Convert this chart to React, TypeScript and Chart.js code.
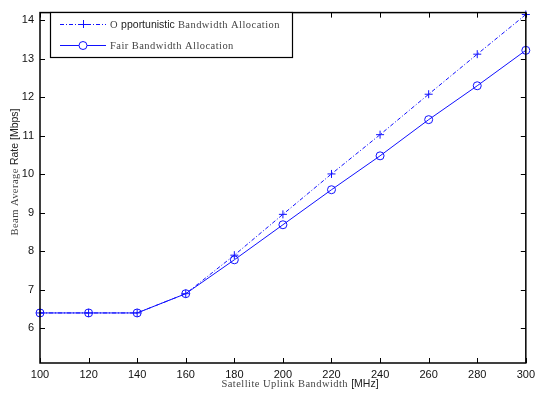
import React, { useEffect, useRef } from "react";
import { Chart, registerables } from "chart.js";

Chart.register(...registerables);

const bandwidths = [100, 120, 140, 160, 180, 200, 220, 240, 260, 280, 300];
const opportunistic = [6.4, 6.4, 6.4, 6.9, 7.9, 8.96, 10.01, 11.03, 12.08, 13.12, 14.15];
const fair = [6.4, 6.4, 6.4, 6.9, 7.78, 8.69, 9.6, 10.48, 11.42, 12.3, 13.22];
const xTicks = [100, 120, 140, 160, 180, 200, 220, 240, 260, 280, 300];
const yTicks = [6, 7, 8, 9, 10, 11, 12, 13, 14];
const legendLabels = ["Opportunistic Bandwidth Allocation", "Fair Bandwidth Allocation"];
// title pieces: [text, useSans]
const xTitleParts: [string, boolean][] = [["Satellite Uplink Bandwidth ", false], ["[MHz]", true]];
const yTitleParts: [string, boolean][] = [["Beam Average ", false], ["Rate [Mbps]", true]];
const legendParts: [string, boolean][][] = [
  [["O ", false], ["pportunistic", true], [" Bandwidth Allocation", false]],
  [["Fair Bandwidth Allocation", false]],
];

const BLUE = "#1010ff";
const SERIF = "10.5px 'Liberation Serif', 'Times New Roman', serif";
const SANS = "10.5px 'Liberation Sans', Arial, sans-serif";

function setPart(ctx: any, s: boolean) {
  ctx.font = s ? SANS : SERIF;
  ctx.letterSpacing = s ? "0px" : "0.45px";
}

function drawParts(ctx: any, parts: [string, boolean][], x: number, y: number, centered: boolean) {
  let total = 0;
  parts.forEach(([t, s]) => {
    setPart(ctx, s);
    total += ctx.measureText(t).width;
  });
  let cx = centered ? x - total / 2 : x;
  parts.forEach(([t, s]) => {
    setPart(ctx, s);
    ctx.fillStyle = s ? "#222" : "#444";
    ctx.fillText(t, cx, y);
    cx += ctx.measureText(t).width;
  });
  ctx.letterSpacing = "0px";
}

const framePlugin = {
  id: "frame",
  afterDraw(chart: any) {
    const { ctx, chartArea } = chart;
    const { left, right, top, bottom } = chartArea;
    const xs = chart.scales.x;
    const ys = chart.scales.y;
    ctx.save();
    ctx.strokeStyle = "#000";
    ctx.lineWidth = 1;
    const tl = 5;
    ctx.beginPath();
    xTicks.forEach((v) => {
      const px = Math.round(xs.getPixelForValue(v)) + 0.5;
      ctx.moveTo(px, bottom);
      ctx.lineTo(px, bottom - tl);
      ctx.moveTo(px, top);
      ctx.lineTo(px, top + tl);
    });
    yTicks.forEach((v) => {
      const py = Math.round(ys.getPixelForValue(v)) + 0.5;
      ctx.moveTo(left, py);
      ctx.lineTo(left + tl, py);
      ctx.moveTo(right, py);
      ctx.lineTo(right - tl, py);
    });
    ctx.stroke();
    ctx.lineWidth = 1.5;
    ctx.strokeRect(left, top, right - left, bottom - top);

    // axis titles
    ctx.textBaseline = "middle";
    ctx.textAlign = "left";
    drawParts(ctx, xTitleParts, 300, 384, true);
    ctx.save();
    ctx.translate(15, 172);
    ctx.rotate(-Math.PI / 2);
    drawParts(ctx, yTitleParts, 0, 0, true);
    ctx.restore();

    // legend
    const lx = 50, ly = 12, lw = 242, lh = 45;
    ctx.fillStyle = "#fff";
    ctx.fillRect(lx, ly, lw, lh);
    ctx.lineWidth = 1.2;
    ctx.strokeStyle = "#000";
    ctx.strokeRect(lx + 0.5, ly + 0.5, lw, lh);
    const rows = [ly + 12, ly + 33];
    ctx.strokeStyle = BLUE;
    ctx.lineWidth = 1;
    ctx.setLineDash([4, 2, 1, 2]);
    ctx.beginPath();
    ctx.moveTo(60, rows[0] + 0.5);
    ctx.lineTo(106, rows[0] + 0.5);
    ctx.stroke();
    ctx.setLineDash([]);
    ctx.beginPath();
    ctx.moveTo(83 - 4, rows[0] + 0.5);
    ctx.lineTo(83 + 4, rows[0] + 0.5);
    ctx.moveTo(83.5, rows[0] - 4);
    ctx.lineTo(83.5, rows[0] + 4);
    ctx.stroke();
    ctx.beginPath();
    ctx.moveTo(60, rows[1] + 0.5);
    ctx.lineTo(106, rows[1] + 0.5);
    ctx.stroke();
    ctx.fillStyle = "#fff";
    ctx.beginPath();
    ctx.arc(83, rows[1] + 0.5, 4, 0, Math.PI * 2);
    ctx.fill();
    ctx.stroke();
    drawParts(ctx, legendParts[0], 110, rows[0] + 1, false);
    drawParts(ctx, legendParts[1], 110, rows[1] + 1, false);
    ctx.restore();
  },
};

export default function App() {
  const ref = useRef<HTMLCanvasElement>(null);
  useEffect(() => {
    if (!ref.current) return;
    const chart = new Chart(ref.current, {
      type: "line",
      data: {
        labels: bandwidths,
        datasets: [
          {
            label: legendLabels[0],
            data: bandwidths.map((x, i) => ({ x, y: opportunistic[i] })),
            borderColor: BLUE,
            backgroundColor: BLUE,
            borderWidth: 1,
            borderDash: [4, 2, 1, 2],
            pointStyle: "cross",
            pointRadius: 4,
            pointBorderWidth: 1,
            clip: false as any,
          },
          {
            label: legendLabels[1],
            data: bandwidths.map((x, i) => ({ x, y: fair[i] })),
            borderColor: BLUE,
            backgroundColor: "rgba(0,0,0,0)",
            borderWidth: 1,
            pointStyle: "circle",
            pointRadius: 4,
            pointBorderWidth: 1,
            clip: false as any,
          },
        ],
      },
      options: {
        animation: false,
        responsive: false,
        layout: { padding: { top: 7, right: 8, left: 0, bottom: 0 } },
        plugins: { legend: { display: false }, tooltip: { enabled: false } },
        scales: {
          x: {
            type: "linear",
            min: 100,
            max: 300,
            afterBuildTicks: (s: any) => {
              s.ticks = xTicks.map((v) => ({ value: v }));
            },
            afterFit: (s: any) => {
              s.height = 36;
            },
            grid: { display: false, drawTicks: false },
            border: { display: false },
            ticks: {
              color: "#111",
              font: { family: "'Liberation Sans', Arial", size: 11 },
              padding: 5,
              maxRotation: 0,
            },
          },
          y: {
            type: "linear",
            min: 5.1,
            max: 14.2,
            afterBuildTicks: (s: any) => {
              s.ticks = yTicks.map((v) => ({ value: v }));
            },
            afterFit: (s: any) => {
              s.width = 40;
            },
            grid: { display: false, drawTicks: false },
            border: { display: false },
            ticks: {
              color: "#111",
              font: { family: "'Liberation Sans', Arial", size: 11 },
              padding: 6,
            },
          },
        },
      },
      plugins: [framePlugin],
    });
    return () => chart.destroy();
  }, []);
  return (
    <div style={{ position: "fixed", left: 0, top: 0, width: 540, height: 399, background: "#fff" }}>
      <canvas ref={ref} width={540} height={399} style={{ width: 540, height: 399 }} />
    </div>
  );
}
